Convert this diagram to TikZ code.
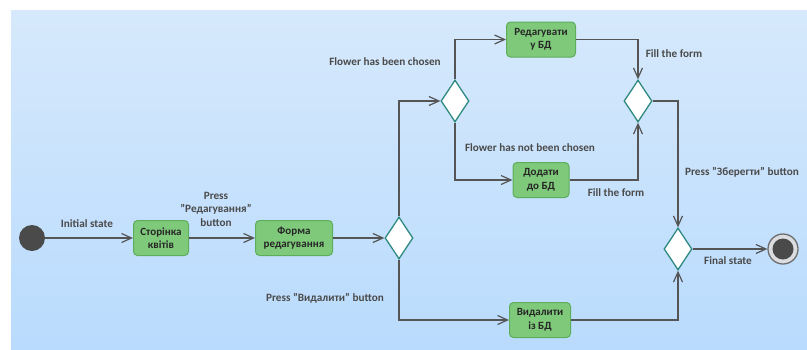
\documentclass[tikz,border=0pt]{standalone}
\usepackage{fontspec}
\setmainfont{Carlito}
\usetikzlibrary{shapes.geometric,arrows.meta}
\definecolor{bgtop}{HTML}{D6E9FC}
\definecolor{bgbot}{HTML}{B9DBFD}
\definecolor{actfill}{HTML}{7FC97A}
\definecolor{actdraw}{HTML}{5DAE5C}
\definecolor{decdraw}{HTML}{2E8A80}
\definecolor{flow}{HTML}{555555}
\definecolor{lbl}{HTML}{4A4A4A}
\definecolor{dot}{HTML}{4A4A4A}
\definecolor{ring}{HTML}{6E6E6E}
\definecolor{ringfill}{HTML}{DADCE0}
\begin{document}
\begin{tikzpicture}[x=1pt,y=-1pt,
  action/.style={draw=actdraw, line width=1pt, fill=actfill, rounded corners=4pt,
    minimum height=35pt, align=center, inner sep=2pt,
    font=\bfseries\fontsize{11}{13.5}\selectfont, text=black!85},
  decision/.style={diamond, draw=decdraw, line width=1.3pt, fill=white,
    minimum width=28pt, minimum height=42pt, inner sep=0pt},
  flowline/.style={draw=flow, line width=1.2pt,
    -{Straight Barb[length=10pt,width=9pt,line width=1.2pt]}},
  lab/.style={font=\bfseries\fontsize{11.2}{13.5}\selectfont, text=lbl, align=center, inner sep=0pt}]
\useasboundingbox (0,0) rectangle (807,349);
\shade[top color=bgtop, bottom color=bgbot] (11,10) rectangle (807,349);

% start and end
\node[circle, fill=dot, minimum size=26pt, inner sep=0pt] (init) at (32,238) {};
\node[circle, draw=ring, line width=1.3pt, fill=ringfill, minimum size=30pt, inner sep=0pt] (fin) at (783,249) {};
\node[circle, fill=dot, minimum size=21pt, inner sep=0pt] (fincore) at (fin.center) {};

% activities
\node[action, minimum width=55pt] (page) at (161,238) {Сторінка\\квітів};
\node[action, minimum width=77pt] (form) at (294,238) {Форма\\редагування};
\node[action, minimum width=69pt] (edit) at (541,39.5) {Редагувати\\у БД};
\node[action, minimum width=56pt] (add) at (541,180) {Додати\\до БД};
\node[action, minimum width=61pt] (del) at (540,320) {Видалити\\із БД};

% decisions
\node[decision] (d1) at (399,238) {};
\node[decision] (d2) at (455,101) {};
\node[decision] (d3) at (638,101) {};
\node[decision] (d4) at (678,249) {};

% flows
\draw[flowline] (init) -- (page);
\draw[flowline] (page) -- (form);
\draw[flowline] (form) -- (d1);
\draw[flowline] (d1.north) |- (d2.west);
\draw[flowline] (d1.south) |- (del.west);
\draw[flowline] (d2.north) |- (edit.west);
\draw[flowline] (d2.south) |- (add.west);
\draw[flowline] (edit.east) -| (d3.north);
\draw[flowline] (add.east) -| (d3.south);
\draw[flowline] (d3.east) -| (d4.north);
\draw[flowline] (del.east) -| (d4.south);
\draw[flowline] (d4.east) -- (fin.west);

% guard labels
\node[lab] (lInit) at (87,224) {Initial state};
\node[lab] (lPressEdit) at (216,209) {Press\\"Редагування"\\button};
\node[lab] (lPressDel) at (325,298) {Press "Видалити" button};
\node[lab] (lChosen) at (385,62) {Flower has been chosen};
\node[lab] (lNotChosen) at (530,148) {Flower has not been chosen};
\node[lab] (lFillA) at (674,54) {Fill the form};
\node[lab] (lFillB) at (616,193) {Fill the form};
\node[lab] (lSave) at (742,172) {Press "Зберегти" button};
\node[lab] (lFinal) at (728,261) {Final state};
\end{tikzpicture}
\end{document}
